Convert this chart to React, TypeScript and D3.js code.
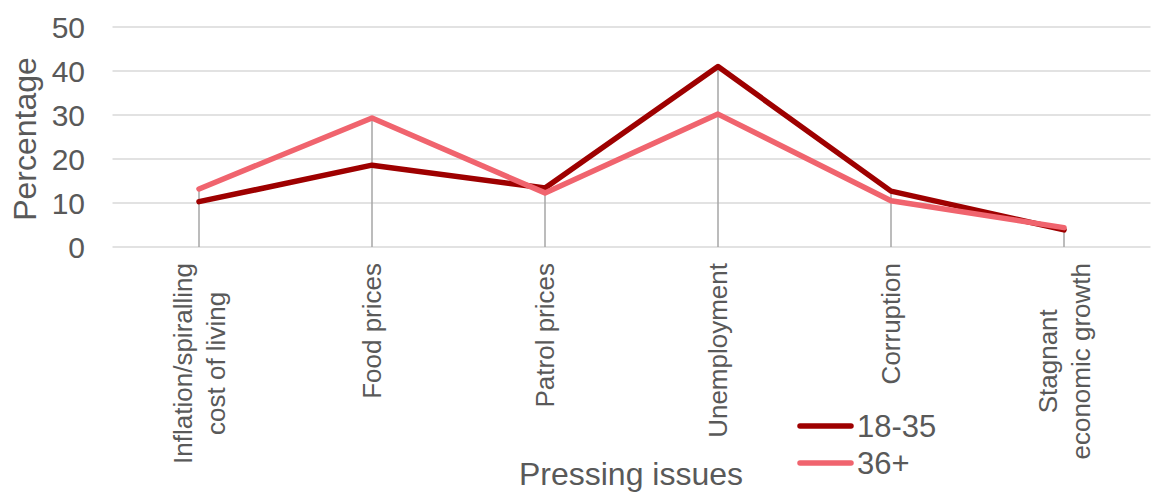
import React from "react";
import * as d3 from "d3";

const categories: string[][] = [
  ["Inflation/spiralling", "cost of living"],
  ["Food prices"],
  ["Patrol prices"],
  ["Unemployment"],
  ["Corruption"],
  ["Stagnant", "economic growth"],
];
const young: number[] = [10.3, 18.6, 13.4, 41.0, 12.7, 3.9];
const old: number[] = [13.2, 29.3, 12.3, 30.2, 10.5, 4.4];
const seriesNames = ["18-35", "36+"];
const seriesColors = ["#9E0000", "#F0646E"];
const yTicks = [0, 10, 20, 30, 40, 50];

const W = 1151;
const H = 492;
const FONT = "'Liberation Sans', Arial, sans-serif";
const TEXT = "#595959";

function measure(text: string, size: number): number {
  const c = document.createElement("canvas").getContext("2d");
  if (!c) return text.length * size * 0.5;
  c.font = `${size}px ${FONT}`;
  return c.measureText(text).width;
}

export default function App() {
  const x = d3.scaleBand<number>().domain(d3.range(categories.length)).range([112.5, 1150.5]);
  const y = d3.scaleLinear().domain([0, 50]).range([247, 27]);
  const cx = (i: number) => (x(i) as number) + x.bandwidth() / 2;
  const line = d3
    .line<number>()
    .x((_, i) => cx(i))
    .y((d) => y(d));
  const series = [young, old];
  const catSize = 26;
  const lineGap = 33;
  const labelTop = 263;

  return (
    <div style={{ position: "absolute", left: 0, top: 0 }}>
      <svg width={W} height={H} style={{ display: "block", fontFamily: FONT }}>
        {yTicks.map((t) => (
          <g key={t}>
            <line x1={112.5} x2={1150.5} y1={y(t)} y2={y(t)} stroke="#D9D9D9" strokeWidth={1.5} />
            <text x={85} y={y(t)} dy="0.36em" textAnchor="end" fontSize={30} fill={TEXT}>
              {t}
            </text>
          </g>
        ))}
        {categories.map((_, i) => (
          <line
            key={i}
            x1={cx(i)}
            x2={cx(i)}
            y1={y(0)}
            y2={y(Math.max(young[i], old[i]))}
            stroke="#A6A6A6"
            strokeWidth={1.5}
          />
        ))}
        {series.map((s, k) => (
          <path
            key={k}
            d={line(s) || ""}
            fill="none"
            stroke={seriesColors[k]}
            strokeWidth={5.5}
            strokeLinejoin="round"
            strokeLinecap="round"
          />
        ))}
        {categories.map((lines, i) => {
          const maxW = Math.max(...lines.map((l) => measure(l, catSize)));
          const centerY = labelTop + maxW / 2;
          const n = lines.length;
          return lines.map((l, j) => {
            const lx = cx(i) + (j - (n - 1) / 2) * lineGap;
            return (
              <text
                key={`${i}-${j}`}
                transform={`translate(${lx},${centerY}) rotate(-90)`}
                textAnchor="middle"
                dy="0.35em"
                fontSize={catSize}
                fill={TEXT}
              >
                {l}
              </text>
            );
          });
        })}
        <text
          transform={`translate(25,139) rotate(-90)`}
          textAnchor="middle"
          dy="0.35em"
          fontSize={32}
          fill={TEXT}
        >
          Percentage
        </text>
        <text x={631} y={485} textAnchor="middle" fontSize={32} fill={TEXT}>
          Pressing issues
        </text>
        {seriesNames.map((name, k) => {
          const ly = 426 + k * 37;
          return (
            <g key={name}>
              <line x1={800} x2={851} y1={ly} y2={ly} stroke={seriesColors[k]} strokeWidth={5.5} strokeLinecap="round" />
              <text x={857} y={ly} dy="0.35em" fontSize={31} fill={TEXT}>
                {name}
              </text>
            </g>
          );
        })}
      </svg>
    </div>
  );
}
